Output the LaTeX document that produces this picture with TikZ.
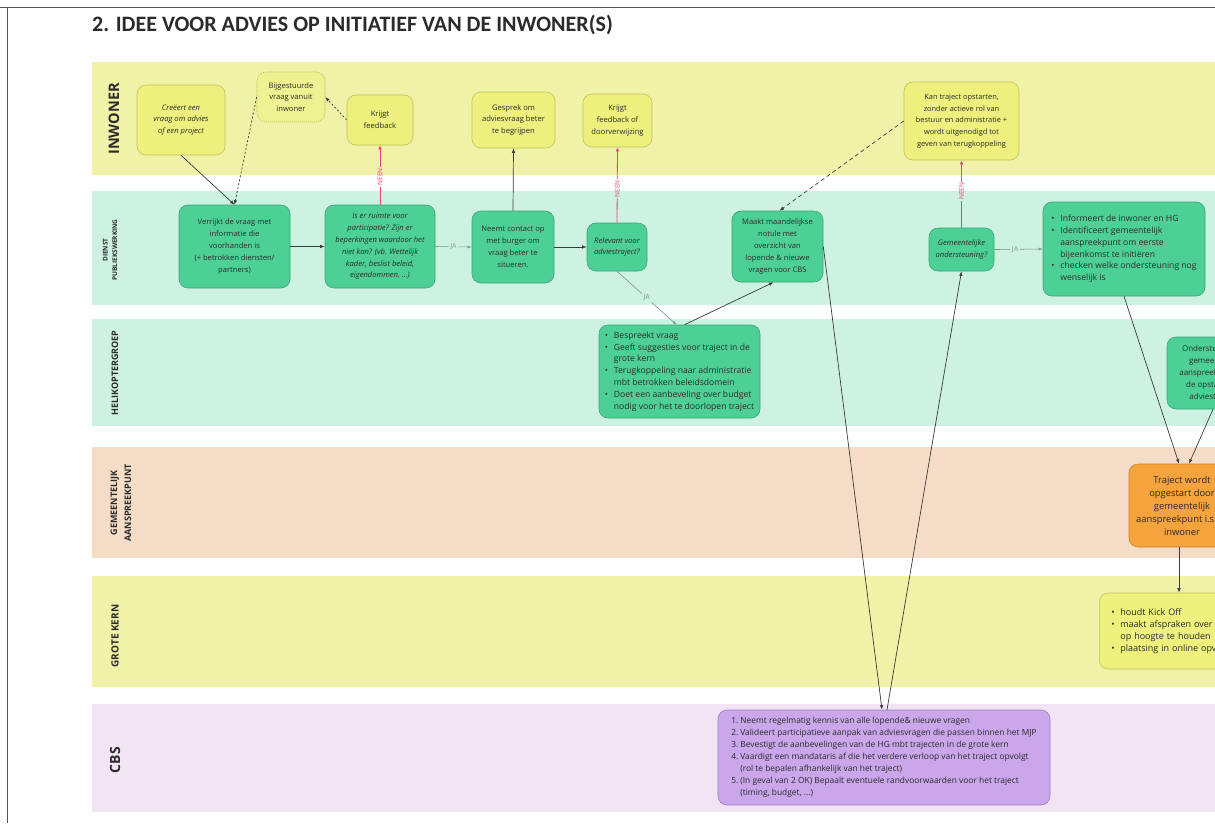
\documentclass[tikz,border=0pt]{standalone}
\usepackage{fontspec}
\setmainfont{Open Sans}
\newfontfamily\titlefont{Carlito}
\usetikzlibrary{arrows.meta}
\definecolor{laneY}{HTML}{F0F2A8}
\definecolor{laneG}{HTML}{CDF2E1}
\definecolor{laneP}{HTML}{F5DCC7}
\definecolor{laneL}{HTML}{F3E4F5}
\definecolor{nY}{HTML}{EDF07D}
\definecolor{nYd}{HTML}{BFC25A}
\definecolor{nYl}{HTML}{EEF290}
\definecolor{nG}{HTML}{4DD095}
\definecolor{nGd}{HTML}{3AA377}
\definecolor{nO}{HTML}{F5A33C}
\definecolor{nOd}{HTML}{C9822C}
\definecolor{nL}{HTML}{C9A7EA}
\definecolor{nLd}{HTML}{9D7DBF}
\definecolor{mag}{HTML}{E3447D}
\definecolor{jag}{HTML}{7A9A8C}
\definecolor{txt}{HTML}{2B2B2B}
\definecolor{ln}{HTML}{3A3A3A}
\definecolor{frame}{HTML}{555555}
\newcommand{\nfont}{\fontsize{7.6}{11.8}\selectfont}
\newcommand{\lfont}{\fontsize{8.6}{11.8}\selectfont}
\newcommand{\bul}{\makebox[9pt][l]{•}}
\newcommand{\ind}{\hspace*{9pt}}
\newcommand{\num}[1]{\makebox[9pt][l]{#1}}
\begin{document}
\begin{tikzpicture}[x=1pt,y=-1pt,
  box/.style={rounded corners=9pt, draw, line width=0.6pt, align=center, font=\nfont, inner sep=2pt, text=txt},
  ybox/.style={box, fill=nY, draw=nYd},
  gbox/.style={box, fill=nG, draw=nGd},
  obox/.style={box, fill=nO, draw=nOd},
  lbox/.style={box, fill=nL, draw=nLd},
  sz/.style 2 args={minimum width=#1, minimum height=#2},
  lanelab/.style={rotate=90, font=\bfseries, text=txt, align=center},
  arr/.style={draw=ln, line width=0.7pt, -{Latex[length=4.5pt,width=3.5pt]}},
  neenline/.style={draw=mag, line width=0.8pt},
  neenlab/.style={rotate=90, text=mag, font=\fontsize{6.5}{7}\selectfont, inner sep=1pt},
  jaline/.style={draw=jag, line width=0.6pt},
  jalab/.style={text=jag, font=\fontsize{7}{8}\selectfont, inner sep=1.5pt},
]
\useasboundingbox (0,0) rectangle (1215,823);
\begin{scope}
\clip (0,0) rectangle (1215,823);
\fill[white] (0,0) rectangle (1215,823);
% frame
\draw[frame, line width=1pt] (0,7) -- (1215,7);
\draw[frame, line width=1pt] (7,7) -- (7,823);
% title
\node[anchor=base west, inner sep=0, text=txt] (title) at (92,31) {\titlefont\bfseries\fontsize{22}{24}\selectfont 2. IDEE VOOR ADVIES OP INITIATIEF VAN DE INWONER(S)};
% lanes
\fill[laneY] (92,62) rectangle (1215,175);
\fill[laneG] (92,191) rectangle (1215,305);
\fill[laneG] (92,319) rectangle (1215,426);
\fill[laneP] (92,447) rectangle (1215,558);
\fill[laneY] (92,576) rectangle (1215,687);
\fill[laneL] (92,704) rectangle (1215,812);
% lane labels
\node[lanelab, font=\bfseries\fontsize{14.5}{16}\selectfont] (lInw) at (114,119) {INWONER};
\node[lanelab, font=\bfseries\fontsize{6.5}{9.5}\selectfont] (lDie) at (110,250) {DIENST\\PUBLIEKSWERKING};
\node[lanelab, font=\bfseries\fontsize{9}{10}\selectfont] (lHel) at (115,373) {HELIKOPTERGROEP};
\node[lanelab, font=\bfseries\fontsize{9}{14}\selectfont] (lGem) at (121,503) {GEMEENTELIJK\\AANSPREEKPUNT};
\node[lanelab, font=\bfseries\fontsize{10}{12}\selectfont] (lGro) at (115,636) {GROTE KERN};
\node[lanelab, font=\bfseries\fontsize{14}{16}\selectfont] (lCbs) at (115,760) {CBS};
% nodes: INWONER
\node[ybox, sz={88}{70}, font=\nfont\itshape] (creeert) at (181,120) {Creëert een\\vraag om advies\\of een project};
\node[box, fill=nYl, draw=nYd!80!gray, dash pattern=on 1pt off 1pt, sz={68}{50}] (bijg) at (291,97) {Bijgestuurde\\vraag vanuit\\inwoner};
\node[ybox, sz={66}{50}] (fb1) at (380,120) {Krijgt\\feedback};
\node[ybox, sz={83}{56}] (gesprek) at (513.5,120) {Gesprek om\\adviesvraag beter\\te begrijpen};
\node[ybox, sz={69}{53}] (fb2) at (617.5,120.5) {Krijgt\\feedback of\\doorverwijzing};
\node[ybox, sz={115}{78}, font=\fontsize{7.4}{11.8}\selectfont] (kan) at (961.5,121) {Kan traject opstarten,\\zonder actieve rol van\\bestuur en administratie +\\wordt uitgenodigd tot\\geven van terugkoppeling};
% DIENST
\node[gbox, sz={111}{83}] (verrijkt) at (234.5,246.5) {Verrijkt de vraag met\\informatie die\\voorhanden is\\(+ betrokken diensten/\\partners)};
\node[gbox, sz={110}{83}, font=\nfont\itshape] (ruimte) at (380,246.5) {Is er ruimte voor\\participatie? Zijn er\\beperkingen waardoor het\\niet kan? (vb. Wettelijk\\kader, beslist beleid,\\eigendommen, ...)};
\node[gbox, sz={82}{72}] (neemt) at (513,247) {Neemt contact op\\met burger om\\vraag beter te\\situeren.};
\node[gbox, sz={60}{48}, font=\nfont\itshape] (relevant) at (617,247) {Relevant voor\\adviestraject?};
\node[gbox, sz={91}{71}] (maakt) at (777.5,246.5) {Maakt maandelijkse\\notule met\\overzicht van\\lopende \& nieuwe\\vragen voor CBS};
\node[gbox, sz={65}{43}, font=\nfont\itshape] (gem) at (961.5,249.5) {Gemeentelijke\\ondersteuning?};
\node[gbox, sz={162}{94}, align=left, font=\lfont] (info) at (1124,249) {\bul Informeert de inwoner en HG\\\bul Identificeert gemeentelijk\\\ind aanspreekpunt om eerste\\\ind bijeenkomst te initiëren\\\bul checken welke ondersteuning nog\\\ind wenselijk is};
% HELIKOPTERGROEP
\node[gbox, sz={161}{93}, align=left, font=\lfont] (bespreekt) at (679.5,371.5) {\bul Bespreekt vraag\\\bul Geeft suggesties voor traject in de\\\ind grote kern\\\bul Terugkoppeling naar administratie\\\ind mbt betrokken beleidsdomein\\\bul Doet een aanbeveling over budget\\\ind nodig voor het te doorlopen traject};
\node[gbox, sz={92}{72}, font=\fontsize{8}{12}\selectfont] (onder) at (1213,373) {Ondersteunt het\\gemeentelijk\\aanspreekpunt bij\\de opstart van\\adviestraject};
% GEMEENTELIJK AANSPREEKPUNT
\node[obox, sz={106}{83}, font=\fontsize{9.4}{13}\selectfont] (traject) at (1182,505.5) {Traject wordt\\opgestart door\\gemeentelijk\\aanspreekpunt i.s.m.\\inwoner};
% GROTE KERN
\node[ybox, anchor=west, text width=200, inner xsep=12, minimum height=76, align=left, font=\fontsize{9}{12.2}\selectfont] (kick) at (1099,631) {\bul houdt Kick Off\\\bul maakt afspraken over hoe elkaar\\\ind op hoogte te houden\\\bul plaatsing in online opvolging};
% CBS
\node[lbox, sz={332}{95}, align=left, font=\fontsize{8.4}{12}\selectfont] (cbs) at (884,757.5) {\num{1.}Neemt regelmatig kennis van alle lopende\& nieuwe vragen\\\num{2.}Valideert participatieve aanpak van adviesvragen die passen binnen het MJP\\\num{3.}Bevestigt de aanbevelingen van de HG mbt trajecten in de grote kern\\\num{4.}Vaardigt een mandataris af die het verdere verloop van het traject opvolgt\\\ind (rol te bepalen afhankelijk van het traject)\\\num{5.}(In geval van 2 OK) Bepaalt eventuele randvoorwaarden voor het traject\\\ind (timing, budget, ...)};
% connectors
\draw[arr] (creeert.south) -- (verrijkt.north);
\draw[arr, dash pattern=on 2pt off 2pt] (bijg.west) -- (verrijkt.north);
\draw[arr, dash pattern=on 2pt off 2pt] (fb1.west) -- (bijg.east);
\draw[arr] (verrijkt.east) -- (ruimte.west);
% NEEN 1
\path (ruimte.north) -- node[neenlab, pos=.47] (n1) {NEEN} (fb1.south);
\draw[neenline] (ruimte.north) -- (n1);
\draw[neenline, -{Latex[length=4pt,width=3.5pt]}] (n1) -- (fb1.south);
% JA 1
\path (ruimte.east) -- node[jalab, pos=.5] (j1) {JA} (neemt.west);
\draw[jaline] (ruimte.east) -- (j1);
\draw[jaline, -{Latex[length=4pt,width=3pt]}] (j1) -- (neemt.west);
\draw[arr] (neemt.north) -- (gesprek.south);
\draw[arr] (neemt.east) -- (relevant.west);
% NEEN 2
\path (relevant.north) -- node[neenlab, pos=.45] (n2) {NEEN} (fb2.south);
\draw[neenline] (relevant.north) -- (n2);
\draw[neenline, -{Latex[length=4pt,width=3.5pt]}] (n2) -- (fb2.south);
% JA 2
\path (relevant.south) -- node[jalab, pos=.5] (j2) {JA} ([xshift=-3]bespreekt.north);
\draw[jaline] (relevant.south) -- (j2);
\draw[jaline, -{Latex[length=4pt,width=3pt]}] (j2) -- ([xshift=-3]bespreekt.north);
\draw[arr] ([xshift=5]bespreekt.north) -- ([xshift=-4]maakt.south);
\draw[arr, dash pattern=on 4pt off 3pt] (kan.west) -- ([xshift=2]maakt.north);
\draw[arr] (maakt.east) -- ([xshift=-2]cbs.north);
\draw[arr] ([xshift=3]cbs.north) -- (gem.south);
% NEEN 3
\path (gem.north) -- node[neenlab, pos=.54] (n3) {NEEN} (kan.south);
\draw[neenline] (gem.north) -- (n3);
\draw[neenline, -{Latex[length=4pt,width=3.5pt]}] (n3) -- (kan.south);
% JA 3
\path (gem.east) -- node[jalab, pos=.43] (j3) {JA} (info.west);
\draw[jaline] (gem.east) -- (j3);
\draw[jaline, -{Latex[length=4pt,width=3pt]}] (j3) -- (info.west);
\draw[arr] (info.south) -- ([xshift=-3]traject.north);
\draw[arr] (onder.south) -- ([xshift=7]traject.north);
\draw[arr] ([xshift=-3]traject.south) -- ([xshift=-3]traject.south |- kick.north);
\end{scope}
\end{tikzpicture}
\end{document}
